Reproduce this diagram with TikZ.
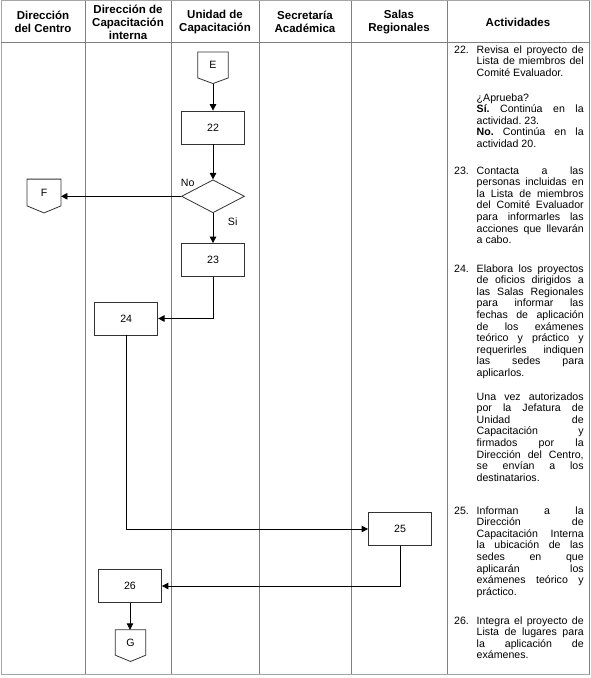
\documentclass[tikz,border=0pt]{standalone}
\usepackage{fontspec}
\setmainfont{Liberation Sans}
\usetikzlibrary{arrows.meta,shapes.geometric,calc}
\tolerance=10000
\hbadness=10000
\frenchspacing
\begin{document}
\begin{tikzpicture}[x=1pt,y=-1pt,
  tline/.style={draw=gray, line width=0.8pt},
  oline/.style={draw=gray!70, line width=0.8pt},
  hdr/.style={font=\fontsize{11.5}{13}\selectfont\bfseries, align=center, inner sep=0},
  shp/.style={draw=black!80, line width=0.8pt},
  proc/.style={shp, minimum width=63pt, minimum height=33pt, inner sep=0, font=\fontsize{10.6}{12}\selectfont},
  dec/.style={diamond, shp, minimum width=63pt, minimum height=33pt, inner sep=0},
  conn/.style={minimum width=30pt, minimum height=25.5pt, inner sep=0, font=\fontsize{10.6}{12}\selectfont},
  arr/.style={-{Triangle[length=6.5pt,width=6.5pt]}, line width=0.9pt, black},
  lbl/.style={font=\fontsize{10.6}{12}\selectfont, inner sep=0},
  act/.style={anchor=base west, inner sep=0, text width=107pt, align=justify,
    font=\fontsize{10.6}{11.6}\selectfont,
    execute at begin node={\rightskip=0pt\relax\parfillskip=0pt plus 1fil\relax\frenchspacing}},
  num/.style={anchor=base west, inner sep=0, font=\fontsize{10.6}{11.6}\selectfont}]
\useasboundingbox (0,0) rectangle (590,678);
% table
\draw[oline] (1,0.5) rectangle (589,674);
\draw[tline] (1,42) -- (589,42);
\foreach \xx in {85,171,259,351,447} \draw[tline] (\xx,0.5) -- (\xx,674);
\draw[tline] (589,0.5) -- (589,674);
% header
\node[hdr] (h1) at (43,22) {Dirección\\del Centro};
\node[hdr] (h2) at (128,22) {Dirección de\\Capacitación\\interna};
\node[hdr] (h3) at (215,22) {Unidad de\\Capacitación};
\node[hdr] (h4) at (305,22) {Secretaría\\Académica};
\node[hdr] (h5) at (399,22) {Salas\\Regionales};
\node[hdr] (h6) at (518,22) {Actividades};
% flowchart
\node[conn] (E) at (213,65) {E};
\coordinate (Etip) at ($(E.south)+(0,5.6)$);
\draw[shp] (E.north west) -- (E.north east) -- (E.south east) -- (Etip) -- (E.south west) -- cycle;
\node[proc] (n22) at (213,127.5) {22};
\node[dec] (D) at (213,196.3) {};
\node[conn, minimum width=33.5pt, minimum height=26.4pt] (F) at (44,192.5) {F};
\coordinate (Ftip) at ($(F.south)+(0,7)$);
\draw[shp] (F.north west) -- (F.north east) -- (F.south east) -- (Ftip) -- (F.south west) -- cycle;
\node[proc] (n23) at (213,260) {23};
\node[proc] (n24) at (126.2,318.5) {24};
\node[proc] (n25) at (400,529) {25};
\node[proc] (n26) at (130,586) {26};
\node[conn, minimum height=25pt] (G) at (130.5,642.5) {G};
\coordinate (Gtip) at ($(G.south)+(0,6.3)$);
\draw[shp] (G.north west) -- (G.north east) -- (G.south east) -- (Gtip) -- (G.south west) -- cycle;
\node[lbl] (lno) at (187.7,182.7) {No};
\node[lbl] (lsi) at (232.7,221.3) {Si};
% connectors
\draw[arr] (Etip) -- (n22.north);
\draw[arr] (n22.south) -- (D.north);
\draw[arr] (D.west) -- (D.west -| F.east);
\draw[arr] (D.south) -- (n23.north);
\draw[arr] (n23.south) |- (n24.east);
\draw[arr] (n24.south) |- (n25.west);
\draw[arr] (n25.south) |- (n26.east);
\draw[arr] (n26.south) -- (n26.south |- G.north);
% activities
\node[num] (a22n) at (454,53) {22.};
\node[act] (a22) at (476.5,53) {Revisa el proyecto de\linebreak Lista de miembros del\linebreak Comité Evaluador.};
\node[act] (a22b) at (476.5,101) {¿Aprueba?\par\textbf{Sí.} Continúa en la\linebreak actividad. 23.\par\textbf{No.} Continúa en la\linebreak actividad 20.};
\node[num] (a23n) at (454,174) {23.};
\node[act] (a23) at (476.5,174) {Contacta a las\linebreak personas incluidas en\linebreak la Lista de miembros\linebreak del Comité Evaluador\linebreak para informarles las\linebreak acciones que llevarán\linebreak a cabo.};
\node[num] (a24n) at (454,272) {24.};
\node[act] (a24) at (476.5,272) {Elabora los proyectos\linebreak de oficios dirigidos a\linebreak las Salas Regionales\linebreak para informar las\linebreak fechas de aplicación\linebreak de los exámenes\linebreak teórico y práctico y\linebreak requerirles indiquen\linebreak las sedes para\linebreak aplicarlos.};
\node[act] (a24b) at (476.5,400) {Una vez autorizados\linebreak por la Jefatura de\linebreak Unidad de\linebreak Capacitación y\linebreak firmados por la\linebreak Dirección del Centro,\linebreak se envían a los\linebreak destinatarios.};
\node[num] (a25n) at (454,514) {25.};
\node[act] (a25) at (476.5,514) {Informan a la\linebreak Dirección de\linebreak Capacitación Interna\linebreak la ubicación de las\linebreak sedes en que\linebreak aplicarán los\linebreak exámenes teórico y\linebreak práctico.};
\node[num] (a26n) at (454,624) {26.};
\node[act] (a26) at (476.5,624) {Integra el proyecto de\linebreak Lista de lugares para\linebreak la aplicación de\linebreak exámenes.};
\end{tikzpicture}
\end{document}
